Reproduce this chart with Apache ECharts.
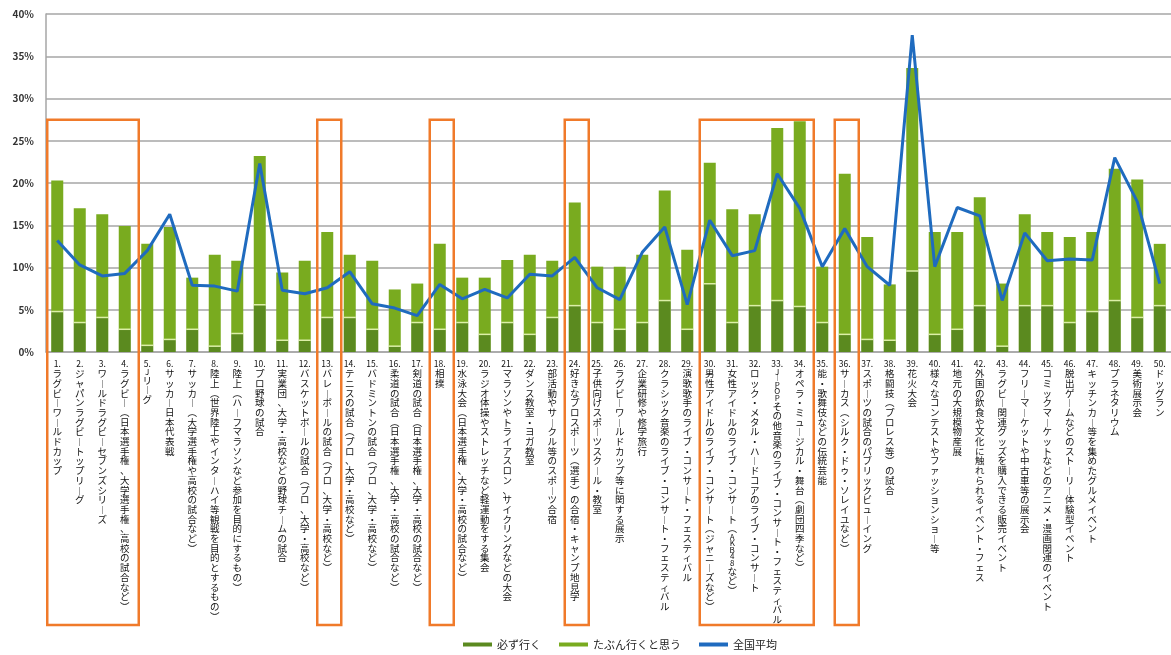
<!DOCTYPE html>
<html>
<head>
<meta charset="utf-8">
<script src="https://cdn.jsdelivr.net/npm/echarts@6/dist/echarts.min.js"></script>
<style>
  html, body { margin: 0; padding: 0; background: #fff; }
  #chart { width: 1171px; height: 655px; }
</style>
</head>
<body>
<div id="chart"></div>
<script>
// カテゴリ
const categories = [
  '1.ラグビーワールドカップ',
  '2.ジャパンラグビートップリーグ',
  '3.ワールドラグビーセブンズシリーズ',
  '4.ラグビー（日本選手権、大学選手権、高校の試合など）',
  '5.Jリーグ',
  '6.サッカー日本代表戦',
  '7.サッカー（大学選手権や高校の試合など）',
  '8.陸上（世界陸上やインターハイ等観戦を目的とするもの）',
  '9.陸上（ハーフマラソンなど参加を目的にするもの）',
  '10.プロ野球の試合',
  '11.実業団、大学・高校などの野球チームの試合',
  '12.バスケットボールの試合（プロ、大学・高校など）',
  '13.バレーボールの試合（プロ、大学・高校など）',
  '14.テニスの試合（プロ、大学・高校など）',
  '15.バドミントンの試合（プロ、大学・高校など）',
  '16.柔道の試合（日本選手権、大学・高校の試合など）',
  '17.剣道の試合（日本選手権、大学・高校の試合など）',
  '18.相撲',
  '19.水泳大会（日本選手権、大学・高校の試合など）',
  '20.ラジオ体操やストレッチなど軽運動をする集会',
  '21.マラソンやトライアスロン、サイクリングなどの大会',
  '22.ダンス教室・ヨガ教室',
  '23.部活動やサークル等のスポーツ合宿',
  '24.好きなプロスポーツ（選手）の合宿・キャンプ地見学',
  '25.子供向けスポーツスクール・教室',
  '26.ラグビーワールドカップ等に関する展示',
  '27.企業研修や修学旅行',
  '28.クラシック音楽のライブ・コンサート・フェスティバル',
  '29.演歌歌手のライブ・コンサート・フェスティバル',
  '30.男性アイドルのライブ・コンサート（ジャニーズなど）',
  '31.女性アイドルのライブ・コンサート（AKB48など）',
  '32.ロック・メタル・ハードコアのライブ・コンサート',
  '33.J-POPその他音楽のライブ・コンサート・フェスティバル',
  '34.オペラ・ミュージカル・舞台（劇団四季など）',
  '35.能・歌舞伎などの伝統芸能',
  '36.サーカス（シルク・ドゥ・ソレイユなど）',
  '37.スポーツの試合のパブリックビューイング',
  '38.格闘技（プロレス等）の試合',
  '39.花火大会',
  '40.様々なコンテストやファッションショー等',
  '41.地元の大規模物産展',
  '42.外国の飲食や文化に触れられるイベント・フェス',
  '43.ラグビー関連グッズを購入できる販売イベント',
  '44.フリーマーケットや中古車等の展示会',
  '45.コミックマーケットなどのアニメ・漫画関連のイベント',
  '46.脱出ゲームなどのストーリー体験型イベント',
  '47.キッチンカー等を集めたグルメイベント',
  '48.プラネタリウム',
  '49.美術展示会',
  '50.ドッグラン'
]

// 必ず行く (%)
const kanarazu = [
  4.7, 3.4, 4.0, 2.6, 0.7, 1.4, 2.6, 0.6, 2.1, 5.5,
  1.3, 1.3, 4.0, 4.0, 2.6, 0.6, 3.4, 2.6, 3.4, 2.0,
  3.4, 2.0, 4.0, 5.4, 3.4, 2.6, 3.4, 6.0, 2.6, 8.0,
  3.4, 5.4, 6.0, 5.3, 3.4, 2.0, 1.4, 1.3, 9.5, 2.0,
  2.6, 5.4, 0.6, 5.4, 5.4, 3.4, 4.7, 6.0, 4.0, 5.4
]

// たぶん行くと思う (%)
const tabun = [
  15.6, 13.6, 12.3, 12.3, 12.1, 13.4, 6.2, 10.9, 8.7, 17.7,
  8.1, 9.5, 10.2, 7.5, 8.2, 6.8, 4.7, 10.2, 5.4, 6.8,
  7.5, 9.5, 6.8, 12.3, 6.7, 7.5, 8.1, 13.1, 9.5, 14.4,
  13.5, 10.9, 20.5, 22.0, 6.7, 19.1, 12.2, 6.7, 24.1, 12.2,
  11.6, 12.9, 7.5, 10.9, 8.8, 10.2, 9.5, 15.7, 16.4, 7.4
]

// 全国平均 (%)
const zenkoku = [
  13.2, 10.3, 9.0, 9.3, 12.0, 16.3, 7.9, 7.8, 7.2, 22.3,
  7.3, 6.9, 7.6, 9.5, 5.7, 5.2, 4.3, 8.0, 6.3, 7.4,
  6.4, 9.2, 9.0, 11.2, 7.6, 6.2, 11.8, 14.8, 5.6, 15.6,
  11.4, 12.0, 21.1, 17.0, 10.1, 14.6, 10.1, 7.9, 37.5, 10.1,
  17.1, 16.1, 6.1, 14.1, 10.8, 11.0, 10.9, 23.0, 17.8, 8.1
]

const yTicks = [0, 5, 10, 15, 20, 25, 30, 35, 40]

// 強調する枠（カテゴリ番号の範囲）
const highlightGroups = [[0, 3], [12, 12], [17, 17], [23, 23], [29, 33], [35, 35]]

const FONT = '"Noto Sans CJK JP", "Noto Sans", sans-serif'

// 縦書き風にする（半角英数は詰めて表示）
const vertMap = { 'ー': '︱', '（': '︵', '）': '︶', '-': '︱' }
function toVertical(s) {
  const m = s.match(/^(\d+\.)(.*)$/)
  const lines = Array.from(m[2]).map(c => {
    if (/[A-Za-z0-9]/.test(c)) return '{s|' + c + '}'
    if (c === '-') return '{s|' + vertMap[c] + '}'
    return vertMap[c] || c
  })
  return ['{n|' + m[1] + '}'].concat(lines).join('\n')
}

const chart = echarts.init(document.getElementById('chart'))

const option = {
  animation: false,
  textStyle: { fontFamily: FONT },
  grid: { left: 46, right: -4, top: 14, bottom: 303, containLabel: false },
  legend: {
    left: 458,
    bottom: 0,
    icon: 'rect',
    itemWidth: 29,
    itemHeight: 4,
    itemGap: 18,
    textStyle: { fontSize: 11, color: '#222', fontFamily: FONT },
    data: ['必ず行く', 'たぶん行くと思う', '全国平均']
  },
  xAxis: {
    type: 'category',
    data: categories,
    axisLine: { lineStyle: { color: '#a6a6a6', width: 1.5 } },
    axisTick: { show: false },
    axisLabel: {
      interval: 0,
      margin: 7,
      fontSize: 9.5,
      lineHeight: 9.7,
      color: '#111',
      fontFamily: FONT,
      align: 'center',
      verticalAlign: 'top',
      rich: {
        s: { fontSize: 8, lineHeight: 6.5, color: '#111', fontFamily: FONT },
        n: { fontSize: 8.5, lineHeight: 9.7, color: '#111', fontFamily: FONT }
      },
      formatter: v => toVertical(v)
    }
  },
  yAxis: {
    type: 'value',
    min: 0,
    max: 40,
    interval: 5,
    axisLine: { show: true, lineStyle: { color: '#a6a6a6', width: 1.5 } },
    axisTick: { show: false },
    splitLine: { lineStyle: { color: '#a6a6a6', width: 1.5 } },
    axisLabel: {
      formatter: v => yTicks.includes(v) ? v + '%' : '',
      fontSize: 10,
      fontWeight: 'bold',
      color: '#333',
      margin: 12,
      fontFamily: FONT
    }
  },
  series: [
    {
      name: '必ず行く',
      type: 'bar',
      stack: 'total',
      barWidth: 12,
      z: 3,
      // 上端の薄い区切り線
      itemStyle: {
        color: '#5b8a1f',
        shadowColor: '#dcefa8',
        shadowOffsetY: -1.5,
        shadowBlur: 0
      },
      data: kanarazu
    },
    {
      name: 'たぶん行くと思う',
      type: 'bar',
      stack: 'total',
      barWidth: 12,
      z: 2,
      itemStyle: { color: '#79ab1f' },
      data: tabun
    },
    {
      name: '全国平均',
      type: 'line',
      symbol: 'none',
      z: 5,
      lineStyle: { color: '#1f6bbf', width: 3 },
      itemStyle: { color: '#1f6bbf' },
      data: zenkoku
    }
  ]
}

chart.setOption(option)

// オレンジの枠
const boxTop = 27.5
const boxBottomPx = 625
const graphics = highlightGroups.map(([a, b]) => {
  const p1 = chart.convertToPixel({ gridIndex: 0 }, [a, boxTop])
  const p2 = chart.convertToPixel({ gridIndex: 0 }, [b, boxTop])
  const x1 = p1[0] - 10
  const x2 = p2[0] + 14
  return {
    type: 'rect',
    z: 100,
    shape: { x: x1, y: p1[1], width: x2 - x1, height: boxBottomPx - p1[1] },
    style: { fill: 'none', stroke: '#f07a2a', lineWidth: 2.5 }
  }
})
chart.setOption({ graphic: graphics })
</script>
</body>
</html>
